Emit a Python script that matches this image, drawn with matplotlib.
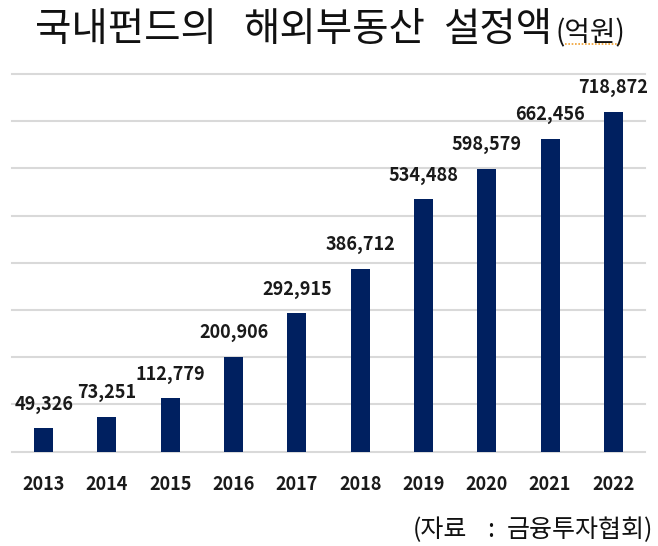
import matplotlib
matplotlib.use("Agg")
import matplotlib.pyplot as plt
from matplotlib.lines import Line2D

plt.rcParams['font.family'] = ['Noto Sans CJK KR', 'DejaVu Sans']

years = ['2013', '2014', '2015', '2016', '2017', '2018', '2019', '2020', '2021', '2022']
values = [49326, 73251, 112779, 200906, 292915, 386712, 534488, 598579, 662456, 718872]
title_words = ['국내펀드의', '해외부동산', '설정액']
title_unit = '(억원)'
source_parts = ['(자료', ':', '금융투자협회)']

W, H = 658, 546
fig = plt.figure(figsize=(W / 100, H / 100), dpi=100)
ax = fig.add_axes([12 / W, (H - 451.7) / H, (645 - 12) / W, (451.7 - 74) / H])

x = list(range(len(years)))
ax.bar(x, values, width=0.30, color='#002060', zorder=3)
ax.set_xlim(-0.5, 9.5)
ax.set_ylim(0, 800000)
ax.set_yticks(range(0, 800001, 100000))
ax.set_yticklabels([])
ax.grid(axis='y', color='#d9d9d9', lw=1.5, zorder=0)
for gl in ax.get_ygridlines():
    gl.set_clip_on(False)
ax.set_axisbelow(True)
for s in ax.spines.values():
    s.set_visible(False)
ax.tick_params(axis='y', length=0)
ax.set_xticks(x)
ax.set_xticklabels(years, fontsize=13, fontweight='bold', color='#1a1a1a')
ax.tick_params(axis='x', length=0, pad=17)

for xi, v in zip(x, values):
    ax.annotate(f'{v:,}', (xi, v), xytext=(0, 17.5), textcoords='offset points',
                ha='center', va='center', fontsize=13, fontweight='bold', color='#1a1a1a')

# Title
title_x = [35, 243, 443]
base_y = 1 - 41 / H
for wx, w in zip(title_x, title_words):
    fig.text(wx / W, base_y, w, fontsize=28.5, ha='left', va='baseline', color='#111111')
fig.text(555 / W, base_y, title_unit, fontsize=20, ha='left', va='baseline', color='#111111')
fig.add_artist(Line2D([565 / W, 620 / W], [1 - 44 / H, 1 - 44 / H], color='#f0a030',
                      lw=1.2, ls=(0, (1, 1)), transform=fig.transFigure))

# Source
sy = 1 - 530 / H
fig.text(413 / W, sy, source_parts[0], fontsize=18, ha='left', va='center', color='#111111')
fig.text(491 / W, sy, source_parts[1], fontsize=18, ha='center', va='center', color='#111111')
fig.text(653 / W, sy, source_parts[2], fontsize=18, ha='right', va='center', color='#111111')

fig.savefig('out.png', dpi=100)
